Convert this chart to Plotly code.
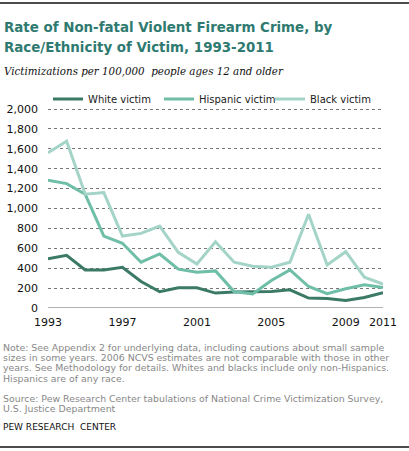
import plotly.graph_objects as go

years = list(range(1993, 2012))
white = [495, 529, 382, 382, 410, 266, 163, 203, 203, 150, 160, 163, 166, 183, 100, 96, 76, 106, 153]
hispanic = [1283, 1250, 1143, 723, 650, 460, 543, 390, 360, 373, 166, 142, 276, 383, 216, 143, 193, 233, 206]
black = [1560, 1676, 1143, 1160, 723, 750, 823, 560, 443, 666, 460, 420, 410, 460, 943, 433, 566, 310, 240]
series_names = ["White victim", "Hispanic victim", "Black victim"]
colors = ["#3b7a67", "#6fbea8", "#a3d4c7"]
x_ticks = [1993, 1997, 2001, 2005, 2009, 2011]
y_ticks = list(range(0, 2001, 200))

W, H = 409, 451
L, R, T, B = 48, 26, 95, 143
PW, PH = W - L - R, H - T - B
y_top = 2000 * PH / 199.0

def px(x):
    return (x - L) / PW

def py(y):
    return (H - B - y) / PH

fig = go.Figure()
for name, vals, c in zip(series_names, [white, hispanic, black], colors):
    fig.add_trace(go.Scatter(x=years, y=vals, name=name, mode="lines",
                             line=dict(color=c, width=3)))

fig.update_layout(
    width=W, height=H,
    margin=dict(l=L, r=R, t=T, b=B, autoexpand=False),
    paper_bgcolor="white", plot_bgcolor="white",
    font=dict(family="DejaVu Sans", size=11, color="#111"),
    showlegend=True,
    legend=dict(orientation="h", x=0, xanchor="left", y=py(99), yanchor="middle",
                font=dict(size=10, color="#222"), itemwidth=30, tracegroupgap=0,
                entrywidth=66, entrywidthmode="pixels",
                bgcolor="rgba(0,0,0,0)"),
    xaxis=dict(range=[1993, 2011], tickvals=x_ticks, showgrid=False, zeroline=False,
               showline=False, ticks="", automargin=False, ticklabelstandoff=6,
               tickfont=dict(size=11, color="#111")),
    yaxis=dict(range=[0, y_top], tickvals=y_ticks, tickformat=",", showgrid=True,
               gridcolor="#777", griddash="dot", gridwidth=1, zeroline=False,
               showline=False, ticks="", ticklabelstandoff=9, automargin=False,
               tickfont=dict(size=11, color="#111")),
)

# x axis baseline
fig.add_shape(type="line", xref="paper", yref="y", x0=0, x1=1, y0=0, y1=0,
              line=dict(color="#999", width=1.5))

# top and bottom rules
fig.add_shape(type="line", xref="paper", yref="paper", x0=px(0), x1=px(W), y0=py(3), y1=py(3),
              line=dict(color="#111", width=1.5))
fig.add_shape(type="line", xref="paper", yref="paper", x0=px(0), x1=px(W), y0=py(447), y1=py(447),
              line=dict(color="#111", width=1.5))

def text(t, x, y, size, color, family="DejaVu Sans", bold=False, italic=False):
    if bold:
        t = "<b>" + t + "</b>"
    if italic:
        t = "<i>" + t + "</i>"
    fig.add_annotation(text=t, xref="paper", yref="paper", x=px(x), y=py(y),
                       xanchor="left", yanchor="middle", showarrow=False,
                       font=dict(size=size, color=color, family=family))

text("Rate of Non-fatal Violent Firearm Crime, by", 2, 28, 13.4, "#2f7a70", bold=True)
text("Race/Ethnicity of Victim, 1993-2011", 2, 47, 13.4, "#2f7a70", bold=True)
text("Victimizations per 100,000  people ages 12 and older", 2, 71, 10.3, "#111",
     family="DejaVu Serif", italic=True)

notes = [
    "Note: See Appendix 2 for underlying data, including cautions about small sample",
    "sizes in some years. 2006 NCVS estimates are not comparable with those in other",
    "years. See Methodology for details. Whites and blacks include only non-Hispanics.",
    "Hispanics are of any race.",
]
for i, n in enumerate(notes):
    text(n, 1, 347 + i * 10.4, 9.4, "#888")
sources = [
    "Source: Pew Research Center tabulations of National Crime Victimization Survey,",
    "U.S. Justice Department",
]
for i, s in enumerate(sources):
    text(s, 1, 398 + i * 10.4, 9.4, "#888")
text("PEW RESEARCH  CENTER", 1, 427, 9, "#111")

fig.write_html("out.html", config={"displayModeBar": False},
               post_script="document.body.style.margin='0';document.body.style.padding='0';document.body.style.overflow='hidden';")
